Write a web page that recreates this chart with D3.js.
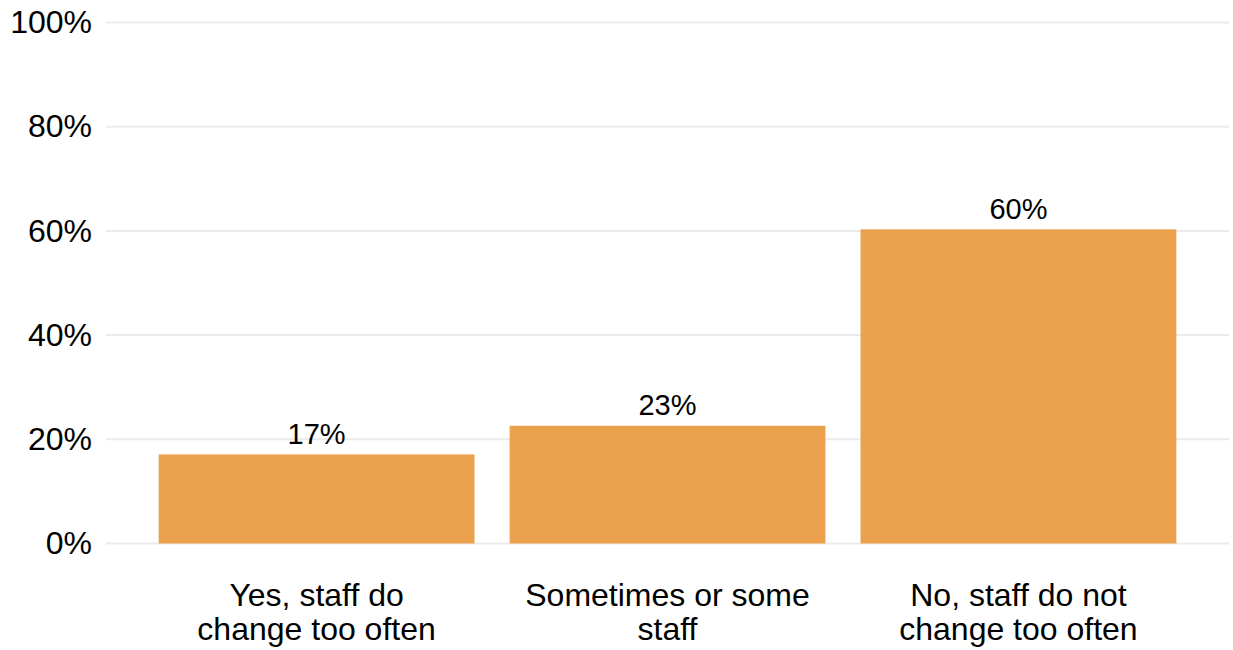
<!DOCTYPE html>
<html>
<head>
<meta charset="utf-8">
<script src="https://cdn.jsdelivr.net/npm/d3@7"></script>
<style>
  body { margin: 0; background: #fff; }
  text { font-family: "Liberation Sans", Arial, sans-serif; fill: #000; }
</style>
</head>
<body>
<div id="chart"></div>
<script>
const categories = [
  ["Yes, staff do", "change too often"],
  ["Sometimes or some", "staff"],
  ["No, staff do not", "change too often"]
];
const values = [17.1, 22.6, 60.3];
const yTicks = [0, 20, 40, 60, 80, 100];

/* svg setup */
const width = 1233;
const height = 650;
const margin = { top: 22.5, right: 4, bottom: 106.5, left: 106 };
const plotW = width - margin.left - margin.right;
const plotH = height - margin.top - margin.bottom;

const svg = d3
  .select("#chart")
  .append("svg")
  .attr("width", width)
  .attr("height", height);

const g = svg
  .append("g")
  .attr("transform", `translate(${margin.left},${margin.top})`);

const y = d3.scaleLinear().domain([0, 100]).range([plotH, 0]);
const x = d3
  .scaleBand()
  .domain(d3.range(categories.length))
  .range([0, plotW])
  .paddingInner(0.1)
  .paddingOuter(0.15);

/* gridlines */
g.append("g")
  .selectAll("line")
  .data(yTicks)
  .enter()
  .append("line")
  .attr("x1", 0)
  .attr("x2", plotW)
  .attr("y1", (d) => y(d))
  .attr("y2", (d) => y(d))
  .attr("stroke", "#ebebeb")
  .attr("stroke-width", 2);

/* y axis labels */
g.append("g")
  .call(d3.axisLeft(y).tickValues(yTicks).tickFormat((d) => d + "%").tickSize(0).tickPadding(14))
  .call((a) => a.select(".domain").remove())
  .selectAll("text")
  .style("font-size", "32px")
  .style("font-family", '"Liberation Sans", Arial, sans-serif')
  .attr("fill", "#000");

/* bars */
g.selectAll("rect.bar")
  .data(values)
  .enter()
  .append("rect")
  .attr("class", "bar")
  .attr("x", (d, i) => x(i))
  .attr("y", (d) => y(d))
  .attr("width", x.bandwidth())
  .attr("height", (d) => y(0) - y(d))
  .attr("fill", "#eca14e");

/* value labels */
g.selectAll("text.val")
  .data(values)
  .enter()
  .append("text")
  .attr("class", "val")
  .attr("x", (d, i) => x(i) + x.bandwidth() / 2)
  .attr("y", (d) => y(d) - 10.5)
  .attr("text-anchor", "middle")
  .style("font-size", "29px")
  .text((d) => Math.round(d) + "%");

/* category labels */
const cat = g
  .selectAll("text.cat")
  .data(categories)
  .enter()
  .append("text")
  .attr("class", "cat")
  .attr("text-anchor", "middle")
  .attr("transform", (d, i) => `translate(${x(i) + x.bandwidth() / 2},${plotH + 62.5})`)
  .style("font-size", "32px");

cat
  .selectAll("tspan")
  .data((d) => d)
  .enter()
  .append("tspan")
  .attr("x", 0)
  .attr("y", (d, i) => i * 34.3)
  .text((d) => d);
</script>
</body>
</html>
